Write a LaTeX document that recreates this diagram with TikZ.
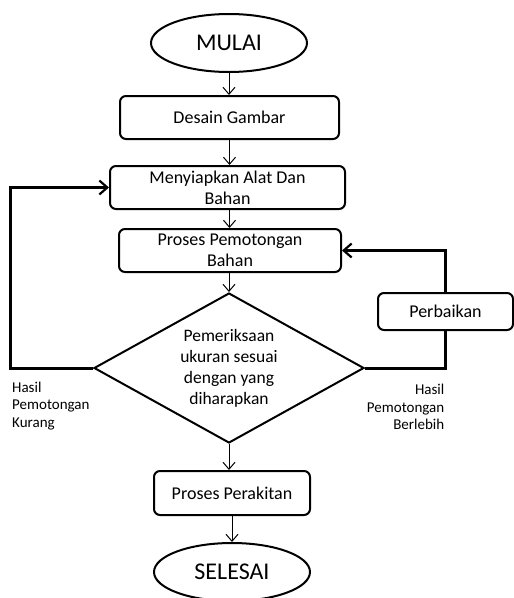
\documentclass[tikz,border=0pt]{standalone}
\usepackage{fontspec}
\setmainfont{Carlito}
\usetikzlibrary{shapes.geometric,arrows.meta}
\tikzset{
    terminal/.style={draw, ellipse, line width=2pt, minimum width=156pt, minimum height=58pt, inner sep=0pt, font=\fontsize{24}{28}\selectfont},
    stepbox/.style={draw, rounded corners=6pt, line width=2pt, minimum height=43pt, inner sep=0pt, align=center, font=\fontsize{18}{20.7}\selectfont},
    checkbox/.style={draw, diamond, line width=2pt, shape aspect=1.8, minimum width=270pt, minimum height=150pt, inner sep=0pt, align=center, font=\fontsize{17.5}{21}\selectfont},
    note/.style={inner sep=0pt, font=\fontsize{15}{17.7}\selectfont},
    flow/.style={line width=0.9pt, -{Straight Barb[length=7pt,width=12pt,line width=1pt]}},
    loop/.style={line width=3pt, -{Straight Barb[length=8pt,width=14pt,line width=2.2pt]}}
}
\begin{document}
\begin{tikzpicture}[x=1pt,y=-1pt]
    \useasboundingbox (0,0) rectangle (514,598);
    \node [terminal] (mulai) at (229,43) {MULAI};
    \node [stepbox, minimum width=219pt] (desain) at (229.5,117.5) {Desain Gambar};
    \node [stepbox, minimum width=235pt] (siap) at (227.5,187.5) {Menyiapkan Alat Dan\\Bahan};
    \node [stepbox, minimum width=222pt] (potong) at (230,250.5) {Proses Pemotongan\\Bahan};
    \node [checkbox] (cek) at (229,368) {Pemeriksaan\\ukuran sesuai\\dengan yang\\diharapkan};
    \node [stepbox, minimum width=135pt, minimum height=37pt] (perbaikan) at (445.5,311.5) {Perbaikan};
    \node [stepbox, minimum width=156pt, minimum height=44pt] (rakit) at (232,493) {Proses Perakitan};
    \node [terminal] (selesai) at (232,572) {SELESAI};
    \node [note, anchor=west, align=left] (kurang) at (12,406) {Hasil\\Pemotongan\\Kurang};
    \node [note, anchor=east, align=right] (lebih) at (444.5,407) {Hasil\\Pemotongan\\Berlebih};
    \coordinate (kiri) at (10,368);
    % alur utama
    \draw [flow] (mulai.south) -- (desain.north -| mulai.south);
    \draw [flow] (desain.south) -- (siap.north -| desain.south);
    \draw [flow] (siap.south -| desain.south) -- (potong.north -| desain.south);
    \draw [flow] (potong.south -| cek.north) -- (cek.north);
    \draw [flow] (cek.south) -- (rakit.north -| cek.south);
    \draw [flow] (rakit.south) -- (selesai.north);
    % umpan balik
    \draw [loop] (cek.west) -- (kiri) |- (siap.west);
    \draw [line width=3pt] (cek.east) -| (perbaikan.south);
    \draw [loop] (perbaikan.north) |- (potong.east);
\end{tikzpicture}
\end{document}
